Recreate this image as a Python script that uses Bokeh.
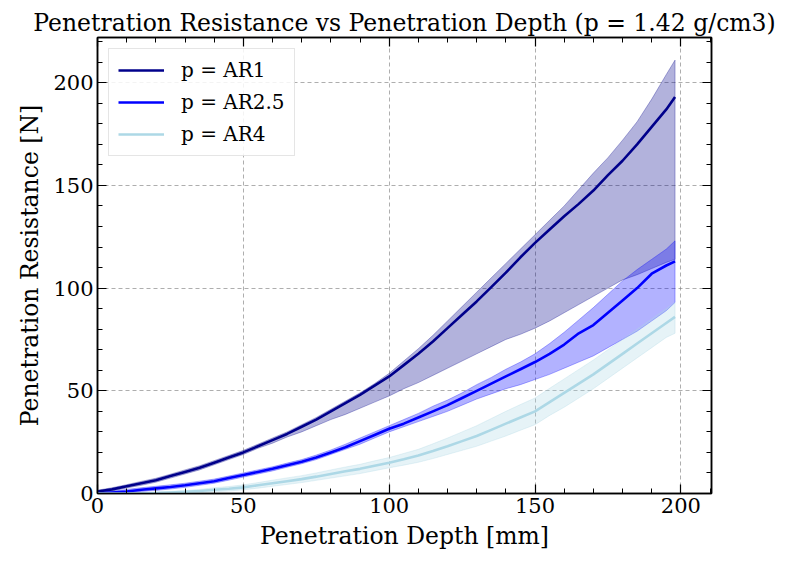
from bokeh.plotting import figure
from bokeh.models import (Range1d, LinearAxis, SingleIntervalTicker, Legend, LegendItem,
                          CustomLabelingPolicy)
from bokeh.embed import file_html
from bokeh.resources import INLINE

# Penetration depth [mm]
depth = [0, 5, 10, 15, 20, 25, 30, 35, 40, 45, 50, 55, 60, 65, 70, 75, 80, 85, 90, 95,
         100, 105, 110, 115, 120, 125, 130, 135, 140, 145, 150, 155, 160, 165, 170, 175,
         180, 185, 190, 195, 198]

# p = AR1 (mean, upper and lower bound) [N]
ar1_mean = [1, 2, 3.5, 5, 6.5, 8.5, 10.5, 12.5, 15, 17.5, 20, 23, 26, 29, 32.5, 36, 40, 44, 48, 52.5,
            57, 62.5, 68, 74, 80.5, 87, 93.5, 100.5, 107.5, 115, 122, 128.5, 135, 141, 147.5, 155,
            162, 170, 178.5, 187, 193]
ar1_upper = [1.6, 2.8, 4.3, 5.9, 7.4, 9.4, 11.5, 13.5, 16, 18.5, 21, 24, 27, 30, 33.5, 37, 41, 45, 49, 53.5,
             58.5, 64.5, 70.5, 77, 84, 91, 98, 105, 112, 119, 126, 133, 140, 148, 156, 163.5,
             172, 181, 192, 204, 211]
ar1_lower = [0.5, 1.2, 2.7, 4, 5.5, 7.5, 9.5, 11.5, 14, 16.5, 19, 22, 24.5, 27.5, 30, 33, 36, 38.5, 41.5, 44.5,
             47.5, 51, 54, 57.5, 61, 64.5, 68, 71.5, 75, 77.5, 80.5, 84, 88, 92, 96, 100,
             104, 106.5, 109.5, 112.5, 114]

# p = AR2.5
ar25_mean = [0, 0.5, 1, 1.8, 2.5, 3.2, 4, 5, 6, 7.5, 9, 10.5, 12, 13.8, 15.5, 17.5, 20, 22.5, 25.5, 28.5,
             31.5, 34, 37, 40, 43, 46.5, 50, 53.5, 57, 60.5, 64, 68, 72.5, 78, 82, 88,
             94, 100, 107, 111, 113]
ar25_upper = [0.5, 1, 2, 2.8, 3.5, 4.2, 5, 6, 7, 8.5, 10, 11.5, 13, 14.8, 16.5, 18.7, 21.2, 24, 27, 30,
              33, 36, 39, 42.5, 45.5, 49, 53, 56.5, 60.5, 64, 68, 73, 78.5, 84.5, 90.5, 97,
              103.5, 109, 114, 119, 123]
ar25_lower = [0, 0, 0.5, 1, 1.5, 2.2, 3, 4, 5, 6.5, 8, 9.5, 11, 12.8, 14.5, 16.5, 19, 21.5, 24, 27,
              30, 32.5, 35, 37.5, 40, 43, 46, 48.5, 51, 53, 55.5, 58, 61, 64, 67, 71,
              75, 79, 84, 89, 93]

# p = AR4
ar4_mean = [0, 0, 0, 0, 0.2, 0.5, 0.8, 1.2, 1.8, 2.3, 3, 4, 5, 6, 7, 8.2, 9.5, 10.8, 12, 13.5,
            15, 16.7, 18.5, 20.7, 23, 25.5, 28, 31, 34, 37, 40, 44.5, 49, 53.5, 58, 63,
            68, 73, 78, 83, 86]
ar4_upper = [0.3, 0.3, 0.3, 0.4, 0.7, 1, 1.4, 2, 2.8, 3.4, 4.2, 5.3, 6.5, 7.6, 8.7, 10, 11.5, 12.9, 14.2, 15.9,
             17.5, 19.5, 21.5, 24.2, 27, 30, 33, 36.5, 40, 43.3, 46.5, 51.2, 55.8, 60.4, 65, 70,
             75, 80, 85, 90, 93]
ar4_lower = [0, 0, 0, 0, 0, 0, 0.2, 0.4, 0.8, 1.2, 1.8, 2.6, 3.5, 4.4, 5.3, 6.4, 7.5, 8.6, 9.7, 11.1,
             12.5, 13.8, 15.2, 17, 19, 21, 23, 25.5, 28, 30.8, 33.5, 38, 42, 46.5, 51, 56,
             61, 66, 71, 76, 78]

labels = ["p = AR1", "p = AR2.5", "p = AR4"]
colors = ["#00008B", "#0000FF", "#ADD8E6"]

FONT = "DejaVu Serif"

p = figure(width=787, height=561, output_backend="svg", toolbar_location=None,
           x_range=Range1d(0, 210.5), y_range=Range1d(0, 222),
           min_border_left=97, min_border_right=76, min_border_top=37, min_border_bottom=68,
           title="Penetration Resistance vs Penetration Depth (p = 1.42 g/cm3)")
p.background_fill_color = "white"
p.border_fill_color = "white"
p.outline_line_color = "black"
p.outline_line_width = 1.5

p.title.align = "center"
p.title.text_font = FONT
p.title.text_font_size = "23.5px"
p.title.text_font_style = "normal"
p.title.text_color = "black"
p.title.standoff = 2

xt = SingleIntervalTicker(interval=50, num_minor_ticks=5)
yt = SingleIntervalTicker(interval=50, num_minor_ticks=5)
p.xaxis.ticker = xt
p.yaxis.ticker = yt
p.xaxis.axis_label = "Penetration Depth [mm]"
p.yaxis.axis_label = "Penetration Resistance [N]"

hide_all = CustomLabelingPolicy(code="""
for (const i of indices) indices.unset(i)
return indices
""")
p.add_layout(LinearAxis(ticker=SingleIntervalTicker(interval=50, num_minor_ticks=5),
                        major_label_policy=hide_all), "right")
p.add_layout(LinearAxis(ticker=SingleIntervalTicker(interval=50, num_minor_ticks=5),
                        major_label_policy=hide_all), "above")

for ax in p.axis:
    ax.major_tick_in = 9
    ax.major_tick_out = 0
    ax.minor_tick_in = 5
    ax.minor_tick_out = 0
    ax.major_tick_line_width = 1.2
    ax.minor_tick_line_width = 1
    ax.axis_line_width = 1.5
    ax.major_label_text_font = FONT
    ax.major_label_text_font_size = "21px"
    ax.major_label_text_color = "black"
    ax.axis_label_text_font = FONT
    ax.axis_label_text_font_size = "23.5px"
    ax.axis_label_text_font_style = "normal"
    ax.axis_label_text_color = "black"
    ax.major_label_standoff = 4
    ax.axis_label_standoff = 6

for ax in p.right + p.above:
    ax.major_label_standoff = 0
    ax.major_label_text_font_size = "0px"

p.xgrid.ticker = xt
p.ygrid.ticker = yt
for g in (p.xgrid[0], p.ygrid[0]):
    g.grid_line_color = "#808080"
    g.grid_line_dash = "4 3"
    g.grid_line_width = 0.8
    g.grid_line_alpha = 0.8

series = [
    (ar1_mean, ar1_upper, ar1_lower),
    (ar25_mean, ar25_upper, ar25_lower),
    (ar4_mean, ar4_upper, ar4_lower),
]

for (m, up, lo), c in zip(series, colors):
    xs = depth + depth[::-1]
    ys = up + lo[::-1]
    p.patch(xs, ys, fill_color=c, fill_alpha=0.3, line_color=c, line_alpha=0.3, line_width=1)

items = []
for (m, up, lo), c, lab in zip(series, colors, labels):
    r = p.line(depth, m, line_color=c, line_width=2.6)
    items.append(LegendItem(label=lab, renderers=[r]))

legend = Legend(items=items, location="top_left")
legend.label_text_font = FONT
legend.label_text_font_size = "20px"
legend.label_text_color = "black"
legend.glyph_width = 46
legend.glyph_height = 22
legend.label_standoff = 17
legend.spacing = 8
legend.padding = 9
legend.margin = 11
legend.border_line_color = "#cccccc"
legend.border_line_width = 1
legend.background_fill_alpha = 0.85
p.add_layout(legend)

open("out.html", "w").write(file_html(p, INLINE))
